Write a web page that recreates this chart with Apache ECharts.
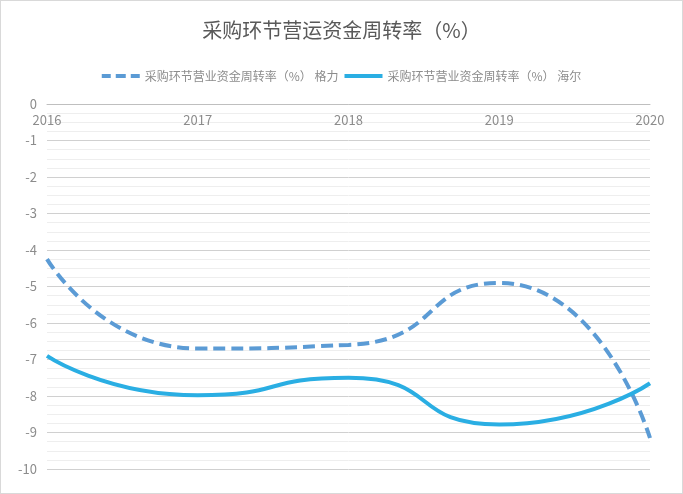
<!DOCTYPE html>
<html><head><meta charset="utf-8">
<script src="https://cdn.jsdelivr.net/npm/echarts@6/dist/echarts.min.js"></script>
<style>html,body{margin:0;padding:0;background:#fff}#c{width:683px;height:494px;box-sizing:border-box;border:1px solid #d9d9d9}</style>
</head><body><div id="c"></div>
<script>
const years = ['2016','2017','2018','2019','2020'];
const gree = [-4.25, -6.7, -6.6, -4.9, -9.15];
const haier = [-6.9, -7.98, -7.5, -8.78, -7.65];
const greeName = '采购环节营业资金周转率（%） 格力';
const haierName = '采购环节营业资金周转率（%） 海尔';
const chart = echarts.init(document.getElementById('c'));
chart.setOption({
  textStyle:{fontFamily:'"Noto Sans CJK SC", sans-serif'},
  title:{text:'采购环节营运资金周转率（%）',left:'center',top:14,textStyle:{color:'#595959',fontSize:20,fontWeight:'normal'}},
  legend:{top:64,left:'center',itemWidth:38,itemHeight:4,itemGap:6,textStyle:{color:'#8c8c8c',fontSize:12},
    data:[{name:greeName,icon:'path://M0,0h9v4h-9zM14,0h10v4h-10zM29,0h9v4h-9z'},{name:haierName,icon:'path://M0,0h38v4h-38z'}]},
  grid:{left:46,right:32,top:103,bottom:24},
  xAxis:{type:'category',data:years,boundaryGap:false,position:'top',
    axisLine:{lineStyle:{color:'#bfbfbf'}},axisTick:{show:false},
    axisLabel:{inside:true,color:'#8c8c8c',fontSize:13,margin:10,verticalAlign:'top'}},
  yAxis:{type:'value',min:-10,max:0,interval:1,
    axisLabel:{color:'#8c8c8c',fontSize:13,margin:10},
    axisLine:{show:false},axisTick:{show:false},
    splitLine:{lineStyle:{color:'#d0d0d0'}},
    minorTick:{show:false,splitNumber:4},
    minorSplitLine:{show:true,lineStyle:{color:'#eeeeee'}}},
  series:[
    {name:greeName,type:'line',smooth:0.6,data:gree,symbol:'none',
      lineStyle:{color:'#5b9bd5',width:4,type:[12,6]},itemStyle:{color:'#5b9bd5'}},
    {name:haierName,type:'line',smooth:0.6,data:haier,symbol:'none',
      lineStyle:{color:'#2aaee3',width:4},itemStyle:{color:'#2aaee3'}}
  ]
});
</script></body></html>
